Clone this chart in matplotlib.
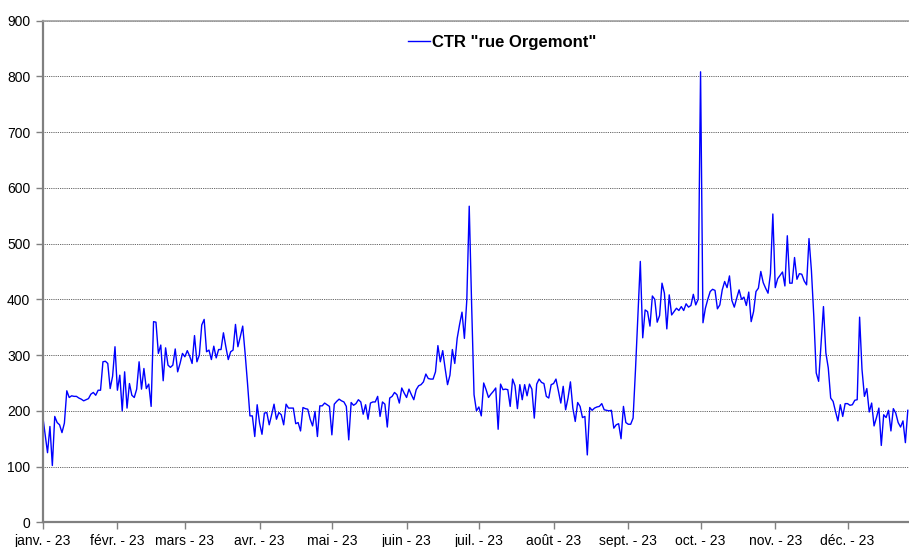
import matplotlib
matplotlib.use("Agg")
import matplotlib.pyplot as plt
import numpy as np
import pandas as pd

plt.rcParams['font.family'] = ['Liberation Sans', 'DejaVu Sans']

series_name = 'CTR "rue Orgemont"'
start_date = "2023-01-01"

jan = [191, 158, 125, 172, 102, 190, 179, 175, 161, 178, 236, 224, 227, 226, 226, 223,
       221, 218, 220, 222, 230, 233, 228, 237, 237, 288, 289, 285, 240, 262, 315]
feb = [237, 264, 200, 270, 205, 249, 228, 224, 239, 288, 239, 276, 240, 248, 208, 360,
       359, 303, 318, 254, 313, 282, 278, 282, 311, 270, 285, 303]
mar = [297, 308, 298, 285, 335, 288, 300, 354, 364, 306, 309, 292, 316, 295, 310, 310,
       340, 315, 292, 306, 309, 355, 315, 333, 352, 303, 249, 191, 191, 154, 211]
apr = [178, 158, 196, 197, 175, 193, 212, 185, 197, 193, 175, 212, 205, 205, 205, 177,
       179, 164, 206, 204, 203, 185, 173, 199, 154, 209, 209, 214, 211, 208]
may = [157, 212, 217, 221, 218, 216, 208, 148, 215, 210, 213, 220, 216, 194, 211, 185,
       214, 216, 216, 226, 190, 216, 212, 171, 223, 226, 233, 229, 214, 241, 232]
jun = [224, 239, 229, 220, 238, 245, 247, 252, 266, 258, 257, 257, 270, 317, 288, 308,
       276, 247, 264, 310, 285, 330, 355, 377, 330, 399, 567, 390, 229, 200]
jul = [207, 191, 250, 238, 224, 230, 235, 241, 167, 248, 238, 239, 238, 208, 257, 245,
       204, 247, 220, 247, 227, 248, 239, 187, 248, 257, 251, 249, 226, 223, 247]
aug = [249, 257, 236, 214, 244, 202, 223, 252, 205, 181, 215, 208, 188, 190, 121, 206,
       201, 205, 207, 208, 213, 202, 201, 200, 201, 169, 175, 177, 150, 208, 179]
sep = [176, 176, 187, 274, 369, 468, 331, 381, 378, 352, 406, 400, 359, 371, 429, 411,
       347, 408, 372, 378, 384, 380, 387, 380, 392, 386, 389, 409, 390, 400]
oct_ = [808, 358, 384, 400, 414, 418, 416, 383, 390, 417, 432, 421, 442, 398, 386, 402,
        417, 400, 404, 389, 413, 360, 378, 414, 420, 450, 430, 420, 411, 446, 553]
nov = [421, 437, 443, 449, 424, 514, 429, 429, 475, 436, 446, 445, 433, 426, 509, 452,
       369, 268, 253, 321, 387, 304, 277, 223, 217, 199, 182, 211, 190, 213]
dec = [213, 210, 211, 219, 220, 368, 274, 226, 240, 198, 214, 173, 188, 205, 138, 193,
       188, 201, 164, 204, 196, 179, 171, 182, 143, 201]

month_labels = ["janv. - 23", "févr. - 23", "mars - 23", "avr. - 23", "mai - 23",
                "juin - 23", "juil. - 23", "août - 23", "sept. - 23", "oct. - 23",
                "nov. - 23", "déc. - 23"]
y_ticks = [0, 100, 200, 300, 400, 500, 600, 700, 800, 900]

values = jan + feb + mar + apr + may + jun + jul + aug + sep + oct_ + nov + dec
dates = pd.date_range(start_date, periods=len(values), freq="D")
month_starts = pd.date_range(start_date, periods=12, freq="MS")

W, H = 909, 547
fig = plt.figure(figsize=(W / 100, H / 100), dpi=100)
ax = fig.add_axes([42.7 / W, 1 - 522.4 / H, 1 - 42.7 / W, (522.4 - 20.5) / H])

line, = ax.plot(dates, values, color="#0000FF", lw=1.0, label=series_name)

ax.set_ylim(0, 900)
ax.set_yticks(y_ticks)
ax.set_xlim(dates[0], dates[0] + pd.Timedelta(days=359.5))
ax.set_xticks(month_starts)
ax.set_xticklabels(month_labels)

ax.grid(axis="y", color="#303030", linestyle=(0, (1, 1.2)), lw=0.6)
ax.set_axisbelow(True)

for side in ["left", "bottom"]:
    ax.spines[side].set_color("#808080")
    ax.spines[side].set_linewidth(1.6)
ax.spines["top"].set_color("#a0a0a0")
ax.spines["top"].set_linewidth(1.2)
ax.spines["right"].set_visible(False)

ax.tick_params(axis="both", direction="out", colors="#808080", length=5, width=1,
               labelcolor="black", labelsize=10)
ax.tick_params(axis="y", pad=4)
ax.tick_params(axis="x", pad=3)
for lbl in ax.get_xticklabels():
    lbl.set_x(lbl.get_position()[0])

leg = fig.legend(handles=[line], loc="center left",
                 bbox_to_anchor=(408 / W, 1 - 42 / H),
                 frameon=False, handlelength=1.3, handletextpad=0.15,
                 borderpad=0, borderaxespad=0,
                 prop={"weight": "bold", "size": 12})

fig.savefig("out.png", dpi=100)
